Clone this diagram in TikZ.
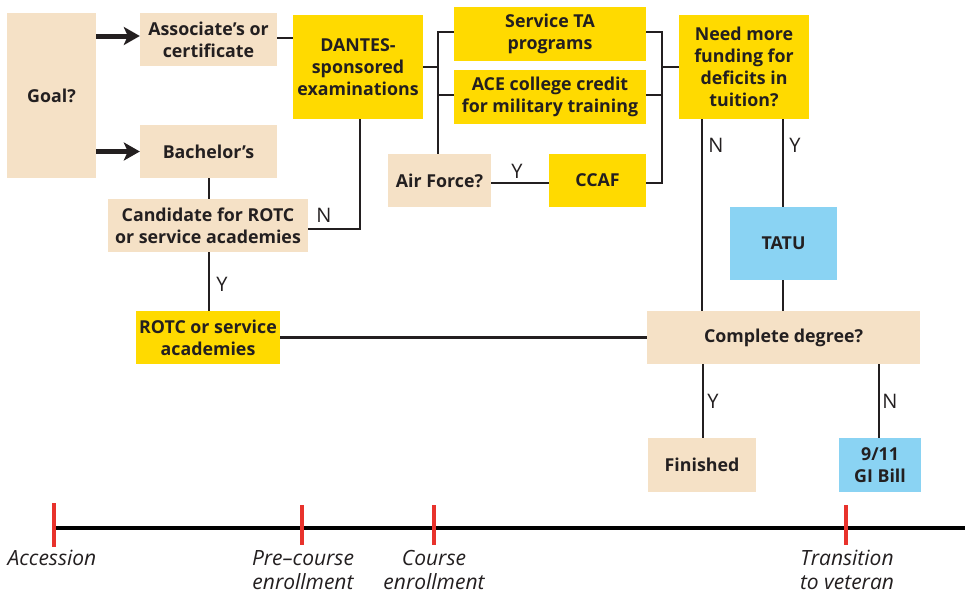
\documentclass[tikz,border=0pt]{standalone}
\usepackage{fontspec}
\setmainfont{Open Sans}
\usetikzlibrary{arrows.meta}
\definecolor{tanbox}{RGB}{245,225,198}
\definecolor{yelbox}{RGB}{255,218,0}
\definecolor{bluebox}{RGB}{138,211,243}
\definecolor{inkc}{RGB}{35,31,32}
\definecolor{redtick}{RGB}{232,50,44}
\tikzset{
  box/.style={inner sep=0pt, align=center, font=\fontsize{17.8}{22}\selectfont\bfseries, text=inkc},
  tanb/.style={box, fill=tanbox},
  yelb/.style={box, fill=yelbox},
  blueb/.style={box, fill=bluebox},
  conn/.style={draw=inkc, line width=2.6pt},
  bigarrow/.style={draw=inkc, line width=5pt, -{Stealth[length=16pt,width=18pt,inset=4pt]}},
  yn/.style={font=\fontsize{20}{22}\selectfont, text=inkc, inner sep=0pt},
  tick/.style={draw=redtick, line width=3.2pt},
  tl/.style={font=\fontsize{21}{24}\selectfont\itshape, text=inkc, align=center, inner sep=0pt},
}
\begin{document}
\begin{tikzpicture}[x=1pt,y=-1pt]
\useasboundingbox (0,0) rectangle (965,595);
% boxes
\node[tanb, minimum width=89, minimum height=165] (goal) at (51.5,95.5) {Goal?};
\node[tanb, minimum width=137, minimum height=53] (assoc) at (208.5,39.5) {Associate’s or\\certificate};
\node[tanb, minimum width=137, minimum height=53] (bach) at (208.5,151.5) {Bachelor’s};
\node[yelb, minimum width=130, minimum height=104] (dantes) at (358,67) {DANTES-\\sponsored\\examinations};
\node[yelb, minimum width=192, minimum height=54] (serv) at (550,34) {Service TA\\programs};
\node[yelb, minimum width=192, minimum height=54] (ace) at (550,97) {ACE college credit\\for military training};
\node[tanb, minimum width=103, minimum height=53] (airf) at (439.5,180.5) {Air Force?};
\node[yelb, minimum width=97, minimum height=53] (ccaf) at (597.5,180.5) {CCAF};
\node[yelb, minimum width=130, minimum height=104] (need) at (744,67) {Need more\\funding for\\deficits in\\tuition?};
\node[blueb, minimum width=107, minimum height=73] (tatu) at (783.5,243.5) {TATU};
\node[tanb, minimum width=273, minimum height=53] (compl) at (783.5,337.5) {Complete degree?};
\node[tanb, minimum width=108, minimum height=54] (fin) at (702,465) {Finished};
\node[blueb, minimum width=82, minimum height=54] (gi) at (880,465) {9/11\\GI Bill};
\node[tanb, minimum width=200, minimum height=53] (cand) at (208,225.5) {Candidate for ROTC\\or service academies};
\node[yelb, minimum width=144, minimum height=53] (rotc) at (208,337.5) {ROTC or service\\academies};
% junction coordinates
\coordinate (jd) at (360,229);
\coordinate (lb) at (438,67);
\coordinate (rb) at (662,67);
\coordinate (nx) at (702,0);
\coordinate (yx) at (783,0);
\coordinate (fy) at (703,0);
\coordinate (gy) at (879,0);
\coordinate (bx) at (209,0);
% arrows from goal
\draw[bigarrow] (goal.east |- 0,36) -- (assoc.west |- 0,36);
\draw[bigarrow] (goal.east |- bach.west) -- (bach.west);
% connectors
\draw[conn] (assoc.east |- 0,38) -- (dantes.west |- 0,38);
\draw[conn] (dantes.south -| jd) -- (jd) -- (cand.east |- jd);
\draw[conn] (bach.south -| bx) -- (cand.north -| bx);
\draw[conn] (cand.south -| bx) -- (rotc.north -| bx);
\draw[conn] (rotc.east) -- (compl.west);
\draw[conn] (dantes.east) -- (lb);
\draw[conn] (serv.west |- 0,32) -- (lb |- 0,32) -- (airf.north -| lb);
\draw[conn] (ace.west |- 0,95) -- (lb |- 0,95);
\draw[conn] (airf.east |- 0,183) -- (ccaf.west |- 0,183);
\draw[conn] (serv.east |- 0,32) -- (rb |- 0,32) -- (rb |- 0,183) -- (ccaf.east |- 0,183);
\draw[conn] (ace.east |- 0,95) -- (rb |- 0,95);
\draw[conn] (rb) -- (need.west);
\draw[conn] (need.south -| nx) -- (compl.north -| nx);
\draw[conn] (need.south -| yx) -- (tatu.north -| yx);
\draw[conn] (tatu.south -| yx) -- (compl.north -| yx);
\draw[conn] (compl.south -| fy) -- (fin.north -| fy);
\draw[conn] (compl.south -| gy) -- (gi.north -| gy);
% Y/N labels
\node[yn] (l1) at (324,215) {N};
\node[yn] (l2) at (222,284) {Y};
\node[yn] (l3) at (517,171) {Y};
\node[yn] (l4) at (716,145) {N};
\node[yn] (l5) at (795,145) {Y};
\node[yn] (l6) at (713,401) {Y};
\node[yn] (l7) at (890,401) {N};
% timeline
\coordinate (t0) at (55,528);
\coordinate (t1) at (965,528);
\draw[draw=black, line width=4.2pt] (t0) -- (t1);
\draw[tick] (54,503) -- (54,547);
\draw[tick] (302,505) -- (302,545);
\draw[tick] (434,505) -- (434,545);
\draw[tick] (846,505) -- (846,545);
\node[tl] (acc) at (52,558) {Accession};
\node[tl] (pre) at (303,570) {Pre–course\\enrollment};
\node[tl] (cou) at (434,570) {Course\\enrollment};
\node[tl] (tra) at (847,570) {Transition\\to veteran};
\end{tikzpicture}
\end{document}
